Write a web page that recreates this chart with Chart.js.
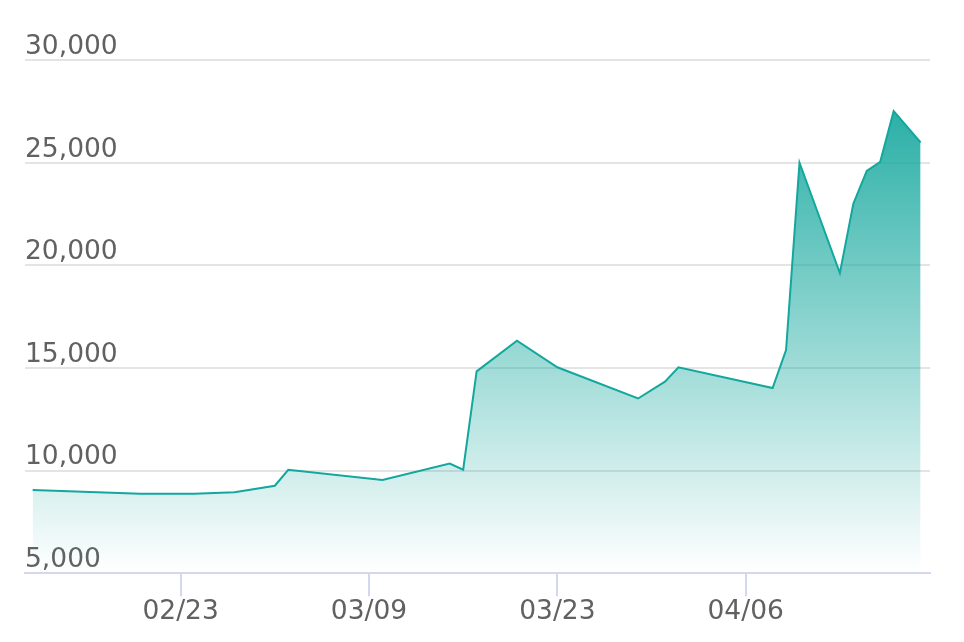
<!DOCTYPE html>
<html>
<head>
<meta charset="utf-8">
<script src="https://cdn.jsdelivr.net/npm/chart.js@4/dist/chart.umd.min.js"></script>
<style>
html,body{margin:0;padding:0;background:#fff;}
#wrap{width:964px;height:642px;}
</style>
</head>
<body>
<div id="wrap"><canvas id="c" width="964" height="642"></canvas></div>
<script>
const YEAR = 2023;
const dates = ['02/12','02/20','02/24','02/27','03/02','03/03','03/10','03/15','03/16','03/17','03/20','03/23','03/29','03/31','04/01','04/08','04/09','04/10','04/13','04/14','04/15','04/16','04/17','04/19'];
const values = [9050,8870,8870,8940,9260,10040,9540,10340,10040,14830,16330,15030,13510,14330,15030,14020,15870,25000,19620,23000,24600,25040,27510,25980];
const xTickLabels = ['02/23','03/09','03/23','04/06'];
const yMin = 5000, yMax = 30000, yStep = 5000;

function toDay(s){const [m,d]=s.split('/').map(Number);return Date.UTC(YEAR,m-1,d)/86400000;}
function fromDay(v){const dt=new Date(Math.round(v)*86400000);return String(dt.getUTCMonth()+1).padStart(2,'0')+'/'+String(dt.getUTCDate()).padStart(2,'0');}

const points = dates.map((d,i)=>({x:toDay(d),y:values[i]}));
const xTicks = xTickLabels.map(toDay);

const FONT = {family:'"DejaVu Sans", Verdana, sans-serif', size:26.5};
const TEXT = '#616161';
const TEAL = '#13a79d';

new Chart(document.getElementById('c'),{
  type:'line',
  data:{datasets:[{
    data:points,
    borderColor:TEAL,
    borderWidth:2,
    pointRadius:0,
    tension:0,
    fill:'start',
    backgroundColor:(ctx)=>{
      const ca=ctx.chart.chartArea;
      if(!ca) return 'rgba(19,167,157,0.3)';
      const g=ctx.chart.ctx.createLinearGradient(0,ca.top,0,ca.bottom);
      g.addColorStop(0,'rgba(19,167,157,1)');
      g.addColorStop(1,'rgba(19,167,157,0)');
      return g;
    }
  }]},
  options:{
    responsive:false,
    animation:false,
    layout:{padding:{left:25,right:34,top:60,bottom:14}},
    plugins:{legend:{display:false},tooltip:{enabled:false}},
    scales:{
      x:{
        type:'linear',
        min:toDay(dates[0])-0.57,
        max:toDay(dates[dates.length-1])+0.7,
        afterBuildTicks:(s)=>{s.ticks=xTicks.map(v=>({value:v}));},
        ticks:{callback:(v)=>fromDay(v),font:FONT,color:TEXT,padding:0,maxRotation:0,autoSkip:false},
        grid:{drawOnChartArea:false,drawTicks:true,tickLength:23,color:'#d3d8ec',lineWidth:2},
        border:{display:true,color:'#d3d8ec',width:2}
      },
      y:{
        min:yMin,max:yMax,
        ticks:{stepSize:yStep,mirror:true,padding:0,labelOffset:-13,font:FONT,color:TEXT,
          callback:(v)=>v.toLocaleString('en-US')},
        grid:{color:'#e4e4e4',lineWidth:2,drawTicks:false},
        border:{display:false}
      }
    }
  }
});
</script>
</body>
</html>
